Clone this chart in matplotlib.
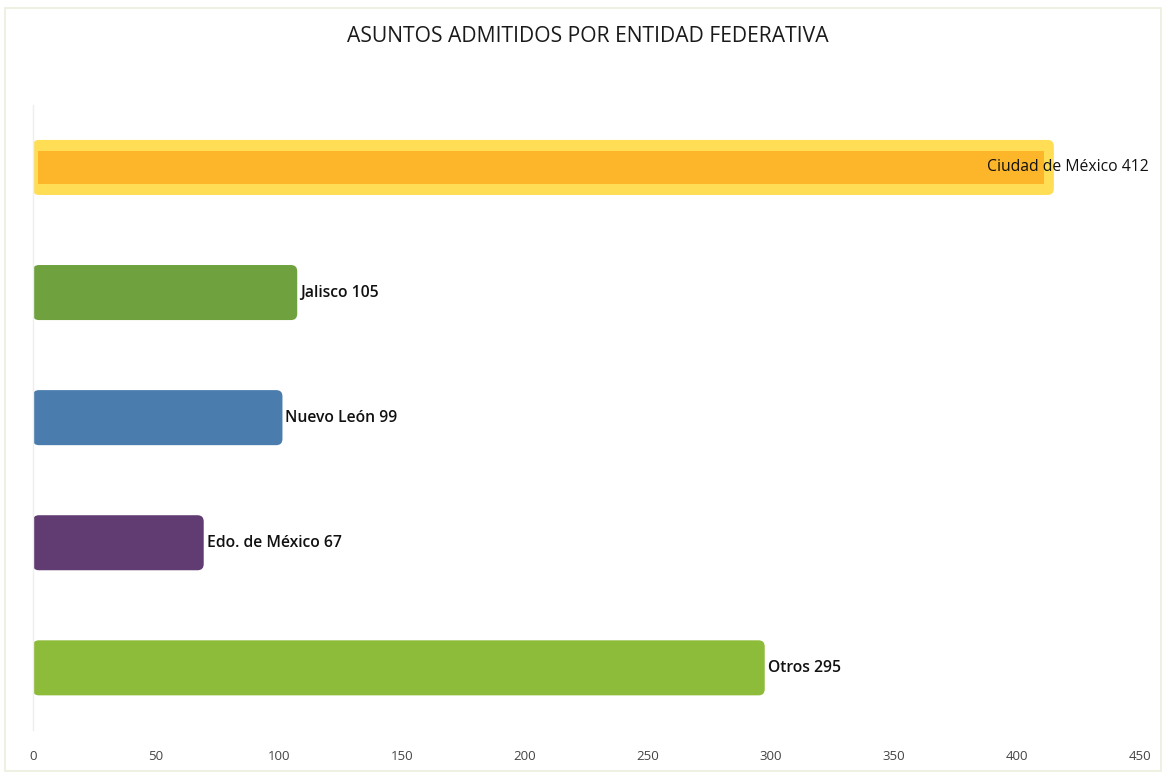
import matplotlib
matplotlib.use("Agg")
import matplotlib.pyplot as plt
from matplotlib.patches import FancyBboxPatch, Rectangle

# data
entidades = ["Ciudad de México", "Jalisco", "Nuevo León", "Edo. de México", "Otros"]
asuntos = [412, 105, 99, 67, 295]
colores = ["#FDB62A", "#6FA23F", "#4A7DAE", "#613C73", "#8DBB3A"]
ticks_x = [0, 50, 100, 150, 200, 250, 300, 350, 400, 450]

plt.rcParams['font.family'] = ['Open Sans', 'DejaVu Sans']

fig = plt.figure(figsize=(11.68, 7.77), dpi=100)
ax = fig.add_axes([0.028, 0.06, 0.948, 0.805])

y_pos = list(range(len(entidades)))[::-1]
alto = 0.44
aspecto = 0.04 / 2.0
extra = 2.5  # bars in the reference run a little past their value

for y, nombre, valor, color in zip(y_pos, entidades, asuntos, colores):
    if nombre == "Ciudad de México":
        # glow-like outer bar with darker core
        outer = FancyBboxPatch((0, y - alto / 2), valor + 3, alto,
                               boxstyle="round,pad=0,rounding_size=2.5",
                               mutation_aspect=aspecto, fc="#FFDD55", ec="none")
        inner = FancyBboxPatch((2, y - 0.13), valor - 3, 0.26,
                               boxstyle="square,pad=0", fc=color, ec="none")
        ax.add_patch(outer)
        ax.add_patch(inner)
        ax.text(valor - 24, y, f"{nombre} {valor}", va="center", ha="left",
                fontsize=11.3, color="#111111")
    else:
        barra = FancyBboxPatch((0, y - alto / 2), valor + extra, alto,
                               boxstyle="round,pad=0,rounding_size=2.5",
                               mutation_aspect=aspecto, fc=color, ec="none")
        ax.add_patch(barra)
        ax.text(valor + extra + 1.2, y, f"{nombre} {valor}", va="center", ha="left",
                fontsize=11.3, fontweight="semibold", color="#111111")

ax.set_xlim(0, 450)
ax.set_ylim(-0.5, 4.5)
ax.set_xticks(ticks_x)
ax.set_xticklabels([str(t) for t in ticks_x], fontsize=9.5, color="#444444")
ax.set_yticks([])
ax.tick_params(axis="x", length=0, pad=14)
for lado in ["top", "right", "bottom"]:
    ax.spines[lado].set_visible(False)
ax.spines["left"].set_color("#EEEEEE")
ax.spines["left"].set_linewidth(1.0)

fig.text(0.503, 0.953, "ASUNTOS ADMITIDOS POR ENTIDAD FEDERATIVA",
         ha="center", va="center", fontsize=15.2, color="#1a1a1a")

# faint outer frame of the chart area
fig.patches.append(Rectangle((0.004, 0.008), 0.99, 0.982, transform=fig.transFigure,
                             fill=False, ec="#EEEEDD", lw=1.2))

fig.savefig("out.png", dpi=100)
